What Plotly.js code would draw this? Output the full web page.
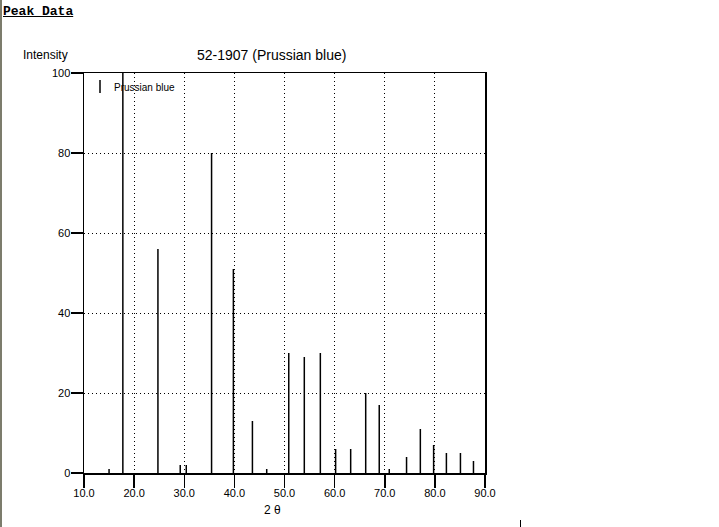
<!DOCTYPE html>
<html>
<head>
<meta charset="utf-8">
<script src="https://cdn.plot.ly/plotly-3.0.1.min.js"></script>
<style>
html,body{margin:0;padding:0;background:#fff;overflow:hidden;}
#chart{position:absolute;left:0;top:0;width:719px;height:527px;}
#edge{position:absolute;left:0;top:0;width:2px;height:527px;background:#7c7c6c;}
#mark{position:absolute;left:520px;top:520px;width:1px;height:7px;background:#000;}
#hdr{position:absolute;left:3px;top:4px;font-family:"Liberation Mono","DejaVu Sans Mono",monospace;font-weight:bold;font-size:13px;text-decoration:underline;color:#000;}
</style>
</head>
<body>
<div id="chart"></div>
<div id="edge"></div>
<div id="mark"></div>
<div id="hdr">Peak Data</div>
<script>
// 2-theta positions (degrees) and relative intensities
const twoTheta = [15.0, 17.75, 24.75, 29.2, 30.4, 35.45, 39.8, 43.6, 46.45, 50.85, 53.95, 57.15, 60.2, 63.2, 66.2, 68.9, 70.9, 74.35, 77.1, 79.75, 82.3, 85.1, 87.7];
const intensity = [1, 100, 56, 2, 2, 80, 51, 13, 1, 30, 29, 30, 6, 6, 20, 17, 1, 4, 11, 7, 5, 5, 3];
const xTicks = [10, 20, 30, 40, 50, 60, 70, 80, 90];
const xTickText = ["10.0", "20.0", "30.0", "40.0", "50.0", "60.0", "70.0", "80.0", "90.0"];
const yTicks = [0, 20, 40, 60, 80, 100];
const seriesName = "Prussian blue";
const chartTitle = "52-1907 (Prussian blue)";

const xs = [], ys = [];
twoTheta.forEach((t, i) => { xs.push(t, t, null); ys.push(0, intensity[i], null); });

const trace = {
  x: xs, y: ys, type: 'scatter', mode: 'lines',
  line: {color: '#000', width: 1.5}, name: seriesName, showlegend: false, hoverinfo: 'skip'
};

const font = {family: 'Liberation Sans, Arial, sans-serif', color: '#000'};

const layout = {
  width: 719, height: 527,
  margin: {l: 84, r: 234, t: 73, b: 54, pad: 0},
  paper_bgcolor: '#fff', plot_bgcolor: '#fff',
  showlegend: false,
  xaxis: {
    range: [10, 90], tickvals: xTicks, ticktext: xTickText,
    ticks: 'outside', ticklen: 13, tickwidth: 1.5, tickcolor: '#000', ticklabelstandoff: -4,
    showline: true, linecolor: '#000', linewidth: 1.5, mirror: true,
    showgrid: true, gridcolor: '#000', gridwidth: 1, griddash: '1px,3px',
    zeroline: false, tickfont: Object.assign({size: 11}, font), fixedrange: true
  },
  yaxis: {
    range: [0, 100], tickvals: yTicks,
    ticks: 'outside', ticklen: 12, tickwidth: 1.5, tickcolor: '#000', ticklabelstandoff: -2,
    showline: true, linecolor: '#000', linewidth: 1.5, mirror: true,
    showgrid: true, gridcolor: '#000', gridwidth: 1, griddash: '1px,3px',
    zeroline: false, tickfont: Object.assign({size: 11}, font), fixedrange: true
  },
  annotations: [
    {text: chartTitle, xref: 'paper', yref: 'paper', x: (271 - 84) / 401, y: 1 + (73 - 55) / 400,
     xanchor: 'center', yanchor: 'middle', showarrow: false, font: Object.assign({size: 14}, font)},
    {text: 'Intensity', xref: 'paper', yref: 'paper', x: (21 - 84) / 401, y: 1 + (73 - 55) / 400,
     xanchor: 'left', yanchor: 'middle', showarrow: false, font: Object.assign({size: 12}, font)},
    {text: '2 θ', xref: 'paper', yref: 'paper', x: (262 - 84) / 401, y: -(510 - 473) / 400,
     xanchor: 'left', yanchor: 'middle', showarrow: false, font: Object.assign({size: 12}, font)},
    {text: seriesName, xref: 'paper', yref: 'paper', x: (112 - 84) / 401, y: 1 - (87 - 73) / 400,
     xanchor: 'left', yanchor: 'middle', showarrow: false, font: Object.assign({size: 10}, font)}
  ],
  shapes: [
    {type: 'line', xref: 'paper', yref: 'paper', x0: (100 - 84) / 401, x1: (100 - 84) / 401,
     y0: 1 - (80 - 73) / 400, y1: 1 - (93 - 73) / 400, line: {color: '#000', width: 1.5}}
  ]
};

Plotly.newPlot('chart', [trace], layout, {displayModeBar: false, staticPlot: true});
</script>
</body>
</html>
